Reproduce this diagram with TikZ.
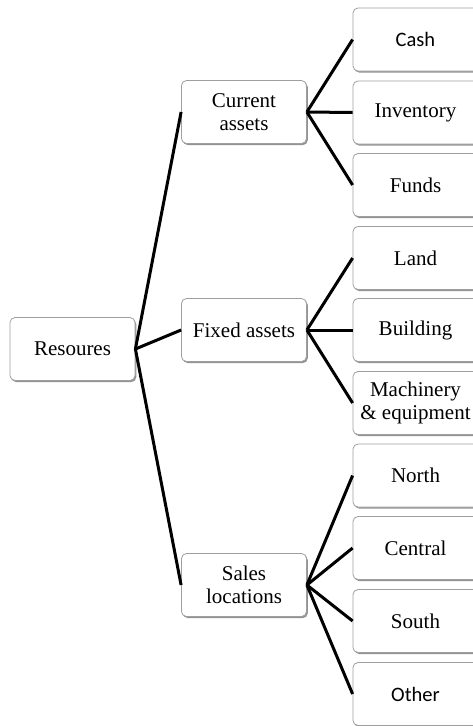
\documentclass[tikz,border=0pt]{standalone}
\usepackage{fontspec}
\setmainfont{Liberation Serif}
\newfontfamily\sansfam{Carlito}
\usetikzlibrary{shadows}
\begin{document}
\begin{tikzpicture}[x=1pt,y=1pt,
  box/.style={draw=gray!75, line width=0.8pt, rounded corners=5pt, fill=white,
    minimum width=125pt, minimum height=63pt, inner sep=2pt, align=center,
    font=\fontsize{21}{23}\selectfont,
    drop shadow={shadow xshift=1.3pt, shadow yshift=-1.6pt, fill=gray!85, opacity=1}},
  sbox/.style={box, font=\sansfam\fontsize{20.5}{22}\selectfont},
  link/.style={line width=3pt, black}]
\useasboundingbox (0,0) rectangle (473,-726);
\fill[white] (0,0) rectangle (473,-726);
\node[box] (res) at (72.5,-349) {Resoures};
\node[box] (cur) at (244,-112) {Current\\assets};
\node[box] (fix) at (244,-330) {Fixed assets};
\node[box] (sal) at (244,-585) {Sales\\locations};
\node[sbox] (cash) at (415.5,-39.5) {Cash};
\node[box] (inv) at (415.5,-112.5) {Inventory};
\node[box] (fun) at (415.5,-185) {Funds};
\node[box] (land) at (415.5,-258) {Land};
\node[box] (bld) at (415.5,-330) {Building};
\node[box] (mach) at (415.5,-403) {Machinery\\\&\ equipment};
\node[box] (north) at (415.5,-475.5) {North};
\node[box] (cen) at (415.5,-548) {Central};
\node[box] (sou) at (415.5,-621) {South};
\node[sbox] (oth) at (415.5,-694) {Other};
\foreach \c in {cur,fix,sal} \draw[link] (res.east) -- (\c.west);
\foreach \c in {cash,inv,fun} \draw[link] (cur.east) -- (\c.west);
\foreach \c in {land,bld,mach} \draw[link] (fix.east) -- (\c.west);
\foreach \c in {north,cen,sou,oth} \draw[link] (sal.east) -- (\c.west);
\end{tikzpicture}
\end{document}
